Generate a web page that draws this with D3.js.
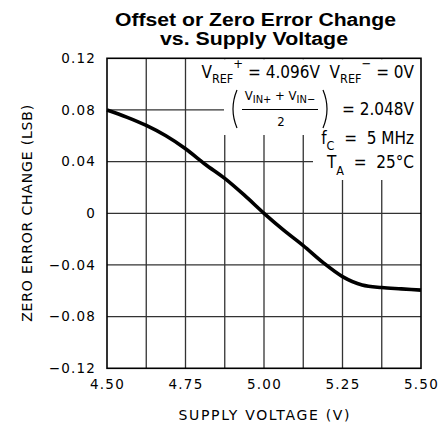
<!DOCTYPE html>
<html>
<head>
<meta charset="utf-8">
<script src="https://cdn.jsdelivr.net/npm/d3@7"></script>
<style>
  body { margin: 0; background: #fff; }
  svg { display: block; }
</style>
</head>
<body>
<div id="chart"></div>
<script>
// supply voltage (V) and zero error change (LSB)
const voltage = [4.5, 4.5625, 4.625, 4.6875, 4.75, 4.8125, 4.875, 4.9375, 5.0,
  5.0625, 5.125, 5.1875, 5.25, 5.3125, 5.375, 5.4375, 5.5];
const zeroErrorChange = [0.080, 0.0745, 0.068, 0.060, 0.050, 0.038, 0.027, 0.014, 0.0,
  -0.013, -0.025, -0.038, -0.049, -0.0555, -0.0575, -0.0585, -0.0595];

const xTicks = [4.5, 4.75, 5.0, 5.25, 5.5];
const xTickLabels = ["4.50", "4.75", "5.00", "5.25", "5.50"];
const xGrid = [4.625, 4.75, 4.875, 5.0, 5.125, 5.25, 5.375];
const yTicks = [0.12, 0.08, 0.04, 0, -0.04, -0.08, -0.12];
const yTickLabels = ["0.12", "0.08", "0.04", "0", "\u22120.04", "\u22120.08", "\u22120.12"];

const W = 441, H = 438;
const pLeft = 107, pRight = 421, pTop = 58.3, pBottom = 368.3;
const font = "'DejaVu Sans', sans-serif";
const annFont = "'Liberation Sans Narrow', 'DejaVu Sans Condensed', 'Liberation Sans', sans-serif";

const svg = d3.select("#chart").append("svg")
  .attr("width", W)
  .attr("height", H);

const x = d3.scaleLinear().domain([4.5, 5.5]).range([pLeft, pRight]);
const y = d3.scaleLinear().domain([-0.12, 0.12]).range([pBottom, pTop]);

// title
svg.append("text")
  .attr("x", 255.5).attr("y", 25.5)
  .attr("text-anchor", "middle")
  .attr("font-family", "'Liberation Sans', Arial, sans-serif")
  .attr("font-weight", "bold")
  .attr("font-size", 17.5)
  .attr("textLength", 281).attr("lengthAdjust", "spacingAndGlyphs")
  .text("Offset or Zero Error Change");
svg.append("text")
  .attr("x", 254).attr("y", 44.5)
  .attr("text-anchor", "middle")
  .attr("font-family", "'Liberation Sans', Arial, sans-serif")
  .attr("font-weight", "bold")
  .attr("font-size", 17.5)
  .attr("textLength", 188).attr("lengthAdjust", "spacingAndGlyphs")
  .text("vs. Supply Voltage");

// grid
const grid = svg.append("g").attr("stroke", "#333").attr("stroke-width", 1.3);
grid.selectAll("line.v").data(xGrid).enter().append("line")
  .attr("x1", d => x(d)).attr("x2", d => x(d))
  .attr("y1", pTop).attr("y2", pBottom);
grid.selectAll("line.h").data(yTicks.slice(1, -1)).enter().append("line")
  .attr("x1", pLeft).attr("x2", pRight)
  .attr("y1", d => y(d)).attr("y2", d => y(d));

// white boxes behind the conditions text
const masks = [[195, pTop + 1, pRight - 195, 96 - pTop], [224, 95, pRight - 224, 40], [313, 134, pRight - 313, 46]];
svg.selectAll("rect.mask").data(masks).enter().append("rect")
  .attr("x", d => d[0]).attr("y", d => d[1])
  .attr("width", d => d[2]).attr("height", d => d[3])
  .attr("fill", "#fff");

// frame
svg.append("rect")
  .attr("x", pLeft).attr("y", pTop)
  .attr("width", pRight - pLeft).attr("height", pBottom - pTop)
  .attr("fill", "none").attr("stroke", "#000").attr("stroke-width", 1.6);

// curve
const line = d3.line()
  .x((d, i) => x(voltage[i]))
  .y(d => y(d))
  .curve(d3.curveMonotoneX);
svg.append("path")
  .datum(zeroErrorChange)
  .attr("d", line)
  .attr("fill", "none")
  .attr("stroke", "#000")
  .attr("stroke-width", 3.6)
  .attr("stroke-linecap", "butt");

// axes (labels only)
const xAxis = svg.append("g")
  .attr("transform", "translate(0," + (pBottom + 8) + ")")
  .call(d3.axisBottom(x).tickValues(xTicks).tickSize(0)
    .tickFormat((d, i) => xTickLabels[i]));
xAxis.select(".domain").remove();
xAxis.selectAll("text")
  .attr("font-family", font).attr("font-size", 13.5)
  .attr("letter-spacing", 1.2).attr("fill", "#000");

const yAxis = svg.append("g")
  .attr("transform", "translate(" + (pLeft - 8) + ",0)")
  .call(d3.axisLeft(y).tickValues(yTicks).tickSize(0)
    .tickFormat((d, i) => yTickLabels[i]));
yAxis.select(".domain").remove();
yAxis.selectAll("text")
  .attr("font-family", font).attr("font-size", 13.5)
  .attr("letter-spacing", 1.2).attr("fill", "#000");

// axis titles
svg.append("text")
  .attr("x", (pLeft + pRight) / 2).attr("y", 420)
  .attr("text-anchor", "middle")
  .attr("font-family", font).attr("font-size", 14)
  .attr("textLength", 171).attr("lengthAdjust", "spacing")
  .text("SUPPLY VOLTAGE (V)");
svg.append("text")
  .attr("transform", "translate(32," + ((pTop + pBottom) / 2) + ") rotate(-90)")
  .attr("text-anchor", "middle")
  .attr("font-family", font).attr("font-size", 14)
  .attr("textLength", 217).attr("lengthAdjust", "spacing")
  .text("ZERO ERROR CHANGE (LSB)");

// conditions text: each line is one text made of runs [string, size, baseline offset]
const ann = svg.append("g").attr("font-family", annFont).attr("fill", "#000");
function runs(px, py, anchor, parts) {
  const t = ann.append("text").attr("x", px).attr("y", py)
    .attr("text-anchor", anchor).style("white-space", "pre");
  let prev = 0;
  parts.forEach(p => {
    t.append("tspan").attr("font-size", p[1]).attr("dy", p[2] - prev).text(p[0]);
    prev = p[2];
  });
  return t;
}
runs(414, 78, "end", [
  ["V", 17, 0], ["REF", 12.5, 5], ["+", 13, -10], [" = 4.096V  V", 17, 0],
  ["REF", 12.5, 5], ["\u2212", 13, -10], [" = 0V", 17, 0]
]);
runs(280, 100, "middle", [
  ["V", 13, 0], ["IN+", 11, 3], [" + V", 13, 0], ["IN\u2212", 11, 3]
]);
ann.append("line")
  .attr("x1", 242).attr("x2", 318).attr("y1", 109.5).attr("y2", 109.5)
  .attr("stroke", "#000").attr("stroke-width", 1);
runs(281, 126, "middle", [["2", 13, 0]]);
// tall brackets round the fraction
ann.append("path")
  .attr("d", "M237,90 Q229,109 237,128 M323,90 Q331,109 323,128")
  .attr("fill", "none").attr("stroke", "#000").attr("stroke-width", 1.2);
runs(414, 115, "end", [["= 2.048V", 17, 0]]);
runs(414, 144, "end", [["f", 17, 0], ["C", 12.5, 6], ["  =  5 MHz", 17, 0]]);
runs(414, 168, "end", [["T", 17, 0], ["A", 12.5, 7], ["  =  25\u00B0C", 17, 0]]);
</script>
</body>
</html>
